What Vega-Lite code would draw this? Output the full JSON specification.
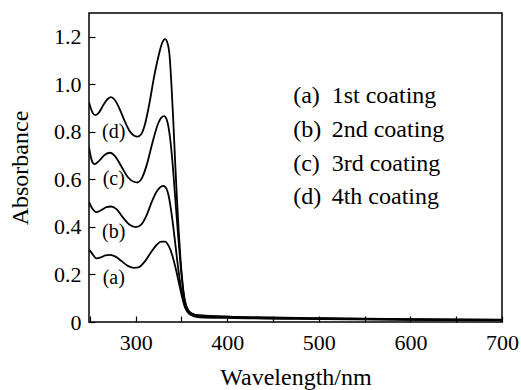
{
  "$schema": "https://vega.github.io/schema/vega-lite/v6.json",
  "autosize": {"type": "none"},
  "width": 413,
  "height": 309,
  "padding": {"left": 89, "top": 13, "right": 19, "bottom": 68},
  "background": "white",
  "config": {
    "view": {"stroke": "black", "strokeWidth": 1.5},
    "font": "Liberation Serif, Times New Roman, serif",
    "axis": {"grid": false, "domain": false, "labelFont": "Liberation Serif, Times New Roman, serif", "titleFont": "Liberation Serif, Times New Roman, serif", "labelColor": "black", "titleColor": "black", "tickColor": "black", "labelFontSize": 22, "titleFontSize": 24, "titleFontWeight": "normal"}
  },
  "datasets": {
    "curves": [
      {"curve": "a", "wl": 249, "abs": 0.305}, {"curve": "a", "wl": 252, "abs": 0.29}, {"curve": "a", "wl": 257, "abs": 0.268}, {"curve": "a", "wl": 262, "abs": 0.272}, {"curve": "a", "wl": 267, "abs": 0.28}, {"curve": "a", "wl": 272, "abs": 0.282}, {"curve": "a", "wl": 278, "abs": 0.275}, {"curve": "a", "wl": 285, "abs": 0.255}, {"curve": "a", "wl": 292, "abs": 0.235}, {"curve": "a", "wl": 298, "abs": 0.228}, {"curve": "a", "wl": 303, "abs": 0.23}, {"curve": "a", "wl": 310, "abs": 0.255}, {"curve": "a", "wl": 317, "abs": 0.295}, {"curve": "a", "wl": 323, "abs": 0.325}, {"curve": "a", "wl": 328, "abs": 0.338}, {"curve": "a", "wl": 332, "abs": 0.338}, {"curve": "a", "wl": 336, "abs": 0.32}, {"curve": "a", "wl": 340, "abs": 0.28}, {"curve": "a", "wl": 344, "abs": 0.22}, {"curve": "a", "wl": 348, "abs": 0.15}, {"curve": "a", "wl": 351, "abs": 0.1}, {"curve": "a", "wl": 354, "abs": 0.06}, {"curve": "a", "wl": 358, "abs": 0.035}, {"curve": "a", "wl": 363, "abs": 0.025}, {"curve": "a", "wl": 370, "abs": 0.02}, {"curve": "a", "wl": 400, "abs": 0.017}, {"curve": "a", "wl": 500, "abs": 0.012}, {"curve": "a", "wl": 600, "abs": 0.009}, {"curve": "a", "wl": 700, "abs": 0.007},
      {"curve": "b", "wl": 249, "abs": 0.505}, {"curve": "b", "wl": 253, "abs": 0.475}, {"curve": "b", "wl": 257, "abs": 0.462}, {"curve": "b", "wl": 262, "abs": 0.47}, {"curve": "b", "wl": 268, "abs": 0.483}, {"curve": "b", "wl": 273, "abs": 0.486}, {"curve": "b", "wl": 279, "abs": 0.475}, {"curve": "b", "wl": 286, "abs": 0.44}, {"curve": "b", "wl": 293, "abs": 0.41}, {"curve": "b", "wl": 300, "abs": 0.399}, {"curve": "b", "wl": 306, "abs": 0.41}, {"curve": "b", "wl": 312, "abs": 0.45}, {"curve": "b", "wl": 318, "abs": 0.51}, {"curve": "b", "wl": 324, "abs": 0.555}, {"curve": "b", "wl": 330, "abs": 0.573}, {"curve": "b", "wl": 333, "abs": 0.565}, {"curve": "b", "wl": 336, "abs": 0.53}, {"curve": "b", "wl": 339, "abs": 0.46}, {"curve": "b", "wl": 342, "abs": 0.37}, {"curve": "b", "wl": 345, "abs": 0.27}, {"curve": "b", "wl": 348, "abs": 0.18}, {"curve": "b", "wl": 351, "abs": 0.11}, {"curve": "b", "wl": 354, "abs": 0.065}, {"curve": "b", "wl": 358, "abs": 0.04}, {"curve": "b", "wl": 364, "abs": 0.03}, {"curve": "b", "wl": 370, "abs": 0.025}, {"curve": "b", "wl": 400, "abs": 0.02}, {"curve": "b", "wl": 500, "abs": 0.014}, {"curve": "b", "wl": 600, "abs": 0.01}, {"curve": "b", "wl": 700, "abs": 0.008},
      {"curve": "c", "wl": 249, "abs": 0.735}, {"curve": "c", "wl": 252, "abs": 0.68}, {"curve": "c", "wl": 255, "abs": 0.664}, {"curve": "c", "wl": 260, "abs": 0.678}, {"curve": "c", "wl": 266, "abs": 0.703}, {"curve": "c", "wl": 272, "abs": 0.712}, {"curve": "c", "wl": 278, "abs": 0.695}, {"curve": "c", "wl": 285, "abs": 0.65}, {"curve": "c", "wl": 292, "abs": 0.607}, {"curve": "c", "wl": 298, "abs": 0.59}, {"curve": "c", "wl": 302, "abs": 0.587}, {"curve": "c", "wl": 306, "abs": 0.6}, {"curve": "c", "wl": 312, "abs": 0.66}, {"curve": "c", "wl": 318, "abs": 0.75}, {"curve": "c", "wl": 324, "abs": 0.83}, {"curve": "c", "wl": 328, "abs": 0.86}, {"curve": "c", "wl": 331, "abs": 0.866}, {"curve": "c", "wl": 334, "abs": 0.85}, {"curve": "c", "wl": 337, "abs": 0.79}, {"curve": "c", "wl": 340, "abs": 0.68}, {"curve": "c", "wl": 343, "abs": 0.53}, {"curve": "c", "wl": 346, "abs": 0.38}, {"curve": "c", "wl": 349, "abs": 0.24}, {"curve": "c", "wl": 352, "abs": 0.13}, {"curve": "c", "wl": 355, "abs": 0.07}, {"curve": "c", "wl": 358, "abs": 0.045}, {"curve": "c", "wl": 362, "abs": 0.035}, {"curve": "c", "wl": 368, "abs": 0.028}, {"curve": "c", "wl": 400, "abs": 0.022}, {"curve": "c", "wl": 500, "abs": 0.015}, {"curve": "c", "wl": 600, "abs": 0.011}, {"curve": "c", "wl": 700, "abs": 0.009},
      {"curve": "d", "wl": 249, "abs": 0.925}, {"curve": "d", "wl": 253, "abs": 0.88}, {"curve": "d", "wl": 256, "abs": 0.87}, {"curve": "d", "wl": 260, "abs": 0.882}, {"curve": "d", "wl": 265, "abs": 0.915}, {"curve": "d", "wl": 270, "abs": 0.94}, {"curve": "d", "wl": 273, "abs": 0.946}, {"curve": "d", "wl": 277, "abs": 0.935}, {"curve": "d", "wl": 282, "abs": 0.9}, {"curve": "d", "wl": 288, "abs": 0.845}, {"curve": "d", "wl": 294, "abs": 0.8}, {"curve": "d", "wl": 298, "abs": 0.785}, {"curve": "d", "wl": 302, "abs": 0.78}, {"curve": "d", "wl": 306, "abs": 0.79}, {"curve": "d", "wl": 310, "abs": 0.83}, {"curve": "d", "wl": 315, "abs": 0.92}, {"curve": "d", "wl": 320, "abs": 1.03}, {"curve": "d", "wl": 325, "abs": 1.12}, {"curve": "d", "wl": 329, "abs": 1.175}, {"curve": "d", "wl": 332, "abs": 1.19}, {"curve": "d", "wl": 335, "abs": 1.17}, {"curve": "d", "wl": 337, "abs": 1.12}, {"curve": "d", "wl": 339, "abs": 1.0}, {"curve": "d", "wl": 341, "abs": 0.85}, {"curve": "d", "wl": 343, "abs": 0.68}, {"curve": "d", "wl": 345, "abs": 0.52}, {"curve": "d", "wl": 347, "abs": 0.38}, {"curve": "d", "wl": 349, "abs": 0.26}, {"curve": "d", "wl": 351, "abs": 0.17}, {"curve": "d", "wl": 353, "abs": 0.1}, {"curve": "d", "wl": 356, "abs": 0.06}, {"curve": "d", "wl": 360, "abs": 0.038}, {"curve": "d", "wl": 365, "abs": 0.03}, {"curve": "d", "wl": 400, "abs": 0.023}, {"curve": "d", "wl": 500, "abs": 0.016}, {"curve": "d", "wl": 600, "abs": 0.012}, {"curve": "d", "wl": 700, "abs": 0.01}
    ],
    "curveLabels": [
      {"wl": 276, "abs": 0.8, "text": "(d)"},
      {"wl": 276, "abs": 0.6, "text": "(c)"},
      {"wl": 276, "abs": 0.38, "text": "(b)"},
      {"wl": 276, "abs": 0.186, "text": "(a)"}
    ],
    "legend": [
      {"wl": 472, "wl2": 514, "abs": 0.95, "tag": "(a)", "text": "1st coating"},
      {"wl": 472, "wl2": 514, "abs": 0.808, "tag": "(b)", "text": "2nd coating"},
      {"wl": 472, "wl2": 514, "abs": 0.666, "tag": "(c)", "text": "3rd coating"},
      {"wl": 472, "wl2": 514, "abs": 0.524, "tag": "(d)", "text": "4th coating"}
    ]
  },
  "layer": [
    {
      "data": {"name": "curves"},
      "mark": {"type": "line", "color": "black", "strokeWidth": 1.8, "interpolate": "monotone", "clip": true},
      "encoding": {
        "x": {"field": "wl", "type": "quantitative", "scale": {"domain": [249, 700], "nice": false, "zero": false},
          "axis": {"title": "Wavelength/nm", "values": [250, 275, 300, 325, 350, 375, 400, 425, 450, 475, 500, 525, 550, 575, 600, 625, 650, 675, 700], "labelExpr": "datum.value % 100 == 0 ? datum.label : ''", "tickSize": -6, "tickWidth": 1.2, "labelPadding": 16, "titlePadding": 12, "labelFlush": false}},
        "y": {"field": "abs", "type": "quantitative", "scale": {"domain": [0, 1.3], "nice": false},
          "axis": {"title": "Absorbance", "values": [0, 0.1, 0.2, 0.3, 0.4, 0.5, 0.6, 0.7, 0.8, 0.9, 1.0, 1.1, 1.2], "labelExpr": "datum.value == 0 ? '0' : (round(datum.value * 10) % 2 == 0 ? format(datum.value, '.1f') : '')", "tickSize": -6, "tickWidth": 1.2, "labelPadding": 14, "titlePadding": 21, "labelFlush": false}},
        "detail": {"field": "curve"}
      }
    },
    {
      "data": {"name": "curveLabels"},
      "mark": {"type": "text", "fontSize": 20, "font": "Liberation Serif, Times New Roman, serif", "color": "black", "align": "center", "baseline": "middle"},
      "encoding": {
        "x": {"field": "wl", "type": "quantitative"},
        "y": {"field": "abs", "type": "quantitative"},
        "text": {"field": "text"}
      }
    },
    {
      "data": {"name": "legend"},
      "mark": {"type": "text", "fontSize": 24, "font": "Liberation Serif, Times New Roman, serif", "color": "black", "align": "left", "baseline": "middle"},
      "encoding": {
        "x": {"field": "wl", "type": "quantitative"},
        "y": {"field": "abs", "type": "quantitative"},
        "text": {"field": "tag"}
      }
    },
    {
      "data": {"name": "legend"},
      "mark": {"type": "text", "fontSize": 24, "font": "Liberation Serif, Times New Roman, serif", "color": "black", "align": "left", "baseline": "middle"},
      "encoding": {
        "x": {"field": "wl2", "type": "quantitative"},
        "y": {"field": "abs", "type": "quantitative"},
        "text": {"field": "text"}
      }
    }
  ]
}
